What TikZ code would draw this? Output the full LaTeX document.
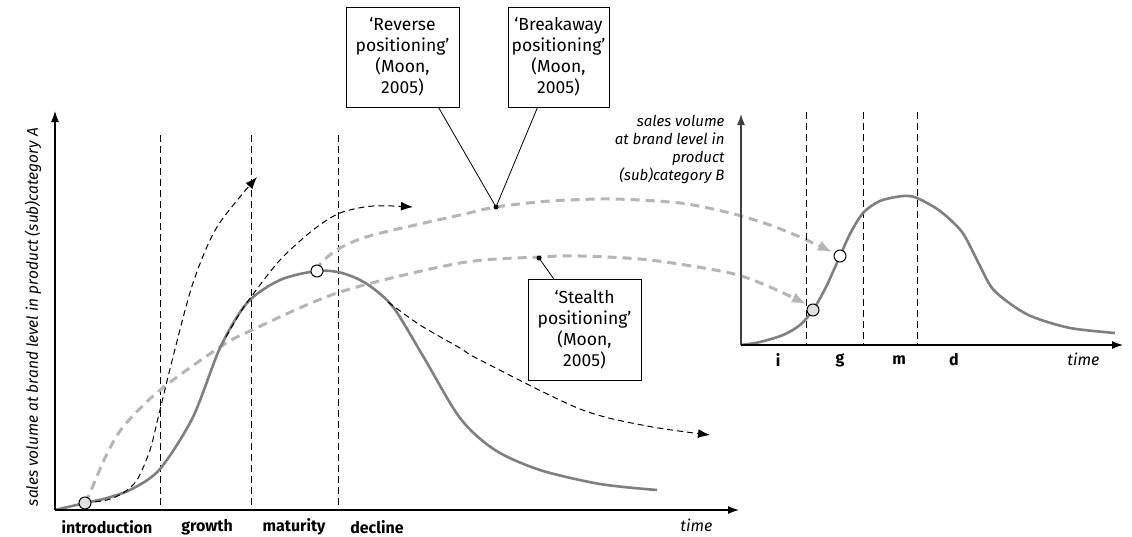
\documentclass[tikz,border=0pt]{standalone}
\usepackage{fontspec}
\setmainfont{Fira Sans}
\usetikzlibrary{arrows.meta}
\definecolor{maingray}{HTML}{7F7F7F}
\definecolor{lightgray}{HTML}{B5B5B5}
\definecolor{dotfill}{HTML}{E0E0E0}
\tikzset{
  axisline/.style={line width=1.2pt,-{Latex[length=11pt,width=8pt]}},
  phase/.style={dash pattern=on 7pt off 4pt,line width=0.8pt},
  lifecurve/.style={maingray,line width=2.6pt},
  blackdash/.style={dash pattern=on 6pt off 4pt,line width=1pt,-{Latex[length=12pt,width=9pt]}},
  greydash/.style={lightgray,dash pattern=on 9pt off 6pt,line width=3pt,-{Latex[length=14pt,width=11pt]}},
  opencirc/.style={circle,draw,line width=1pt,fill=white,minimum size=12pt,inner sep=0pt},
  greycirc/.style={circle,draw,line width=1pt,fill=dotfill,minimum size=12pt,inner sep=0pt},
  callout/.style={draw,line width=0.8pt,fill=white,align=center,inner sep=0pt,font=\fontsize{17.5}{21}\selectfont},
  pointer/.style={line width=0.8pt},
  ptdot/.style={circle,fill,minimum size=5pt,inner sep=0pt},
  phaselabel/.style={font=\fontsize{16}{18}\selectfont\bfseries},
  axlabel/.style={font=\fontsize{16}{18}\selectfont\itshape}
}
\begin{document}
\begin{tikzpicture}[x=1pt,y=-1pt]
\useasboundingbox (0,0) rectangle (1132,536);
% ---------- left chart ----------
\coordinate (oA) at (55,510);
\coordinate (yA) at (55,111);
\coordinate (xA) at (739,510);
\foreach \xx/\nm in {160/pa1,251/pa2,338/pa3}{
  \coordinate (\nm t) at (\xx,135);
  \coordinate (\nm b) at (\xx,510);
  \draw[phase] (\nm t) -- (\nm b);
}
% grey dashed transfers
\coordinate (tipS) at (806,304);
\coordinate (tipR) at (832,252);
\draw[greydash] plot[smooth] coordinates {(85,503) (90,493) (105,458) (123,427) (160,390) (220,347) (250,331) (340,292) (460,263) (540,257) (580,256) (650,260) (730,273) (770,287) (tipS)};
\draw[greydash] plot[smooth] coordinates {(317,271) (322,262) (340,248) (373,235) (460,215) (496,207) (550,201) (613,199) (680,203) (730,213) (767,224) (800,237) (tipR)};
% main curve
\draw[lifecurve] plot[smooth] coordinates {(oA) (85,503) (107,498) (132,489) (160,469) (193,417) (220,348) (247,303) (280,280) (317,271) (342,273) (367,284) (393,307) (423,356) (460,418) (495,450) (540,470) (600,484) (657,490)};
% black dashed alternatives
\coordinate (tip1) at (257,177);
\coordinate (tip2) at (413,207);
\coordinate (tip3) at (710,435);
\draw[blackdash] plot[smooth] coordinates {(85,503) (107,500) (123,493) (137,480) (150,450) (159,414) (173,357) (193,283) (217,227) (tip1)};
\draw[blackdash] plot[smooth] coordinates {(226,337) (240,313) (251,297) (280,260) (313,230) (340,213) (373,206) (tip2)};
\draw[blackdash] plot[smooth] coordinates {(388,302) (420,325) (460,348) (480,360) (580,409) (647,426) (tip3)};
% axes
\draw[axisline] (oA) -- (yA);
\draw[axisline] (oA) -- (xA);
% circles
\node[greycirc] (cA1) at (85,503) {};
\node[opencirc] (cA2) at (317,271) {};
% labels
\node[font=\fontsize{15.5}{17}\selectfont\itshape,rotate=90] (ylabA) at (33,317) {sales volume at brand level in product (sub)category A};
\node[phaselabel] (lintro) at (107,527) {introduction};
\node[phaselabel] (lgrowth) at (207,527) {growth};
\node[phaselabel] (lmat) at (294,527) {maturity};
\node[phaselabel] (ldec) at (377,527) {decline};
\node[axlabel,anchor=east] (ltimeA) at (716,525) {time};
% ---------- right chart ----------
\coordinate (oB) at (741,345);
\coordinate (yB) at (741,114);
\coordinate (xB) at (1123,345);
\foreach \xx/\nm in {806/pb1,863/pb2,917/pb3}{
  \coordinate (\nm t) at (\xx,112);
  \coordinate (\nm b) at (\xx,345);
  \draw[phase] (\nm t) -- (\nm b);
}
\draw[lifecurve] plot[smooth] coordinates {(oB) (760,342) (783,335) (800,325) (813,310) (826,287) (840,256) (850,234) (863,213) (880,201) (903,196) (917,198) (940,211) (962,232) (978,262) (992,288) (1012,305) (1033,317) (1070,328) (1115,333)};
\draw[axisline,draw=black!75] (oB) -- (yB);
\draw[axisline] (oB) -- (xB);
\node[greycirc] (cB1) at (813,310) {};
\node[opencirc] (cB2) at (840,256) {};
\node[font=\fontsize{15}{18}\selectfont\itshape,align=right,anchor=east] (ylabB) at (728,149) {sales volume\\at brand level in\\product\\(sub)category B};
\node[phaselabel] (li) at (778,360) {i};
\node[phaselabel] (lg) at (840,360) {g};
\node[phaselabel] (lm) at (899,360) {m};
\node[phaselabel] (ld) at (954,360) {d};
\node[axlabel,anchor=east] (ltimeB) at (1103,359) {time};
% ---------- callouts ----------
\node[callout,minimum width=113pt,minimum height=100pt] (rev) at (402.5,57) {`Reverse\\positioning'\\(Moon,\\2005)};
\node[callout,minimum width=101pt,minimum height=100pt] (brk) at (558.5,57) {`Breakaway\\positioning'\\(Moon,\\2005)};
\node[callout,minimum width=113pt,minimum height=101pt] (stl) at (584.5,329.5) {`Stealth\\positioning'\\(Moon,\\2005)};
\node[ptdot] (dRB) at (496,207) {};
\node[ptdot] (dS) at (539,258) {};
\draw[pointer] ([xshift=36pt]rev.south) -- (dRB.center);
\draw[pointer] ([xshift=-21pt]brk.south) -- (dRB.center);
\draw[pointer] ([xshift=-31pt]stl.north) -- (dS.center);
\end{tikzpicture}
\end{document}
